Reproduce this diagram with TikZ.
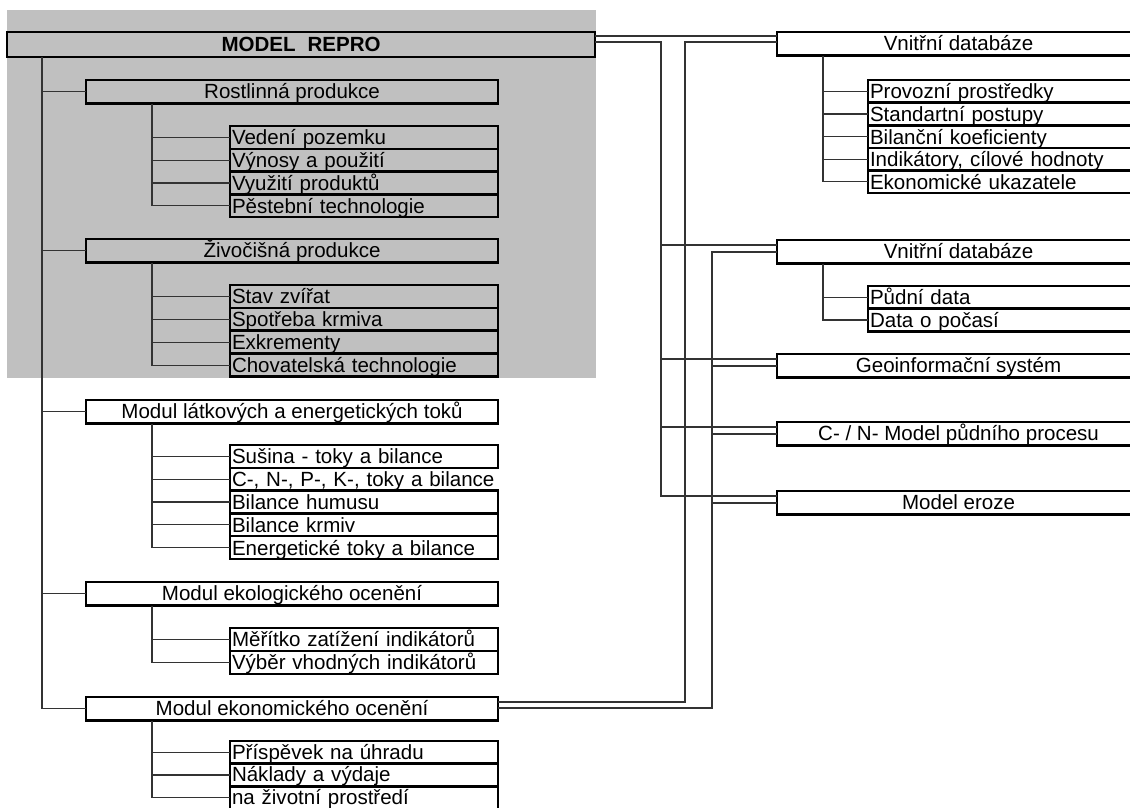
\documentclass[tikz,border=0pt]{standalone}
\usepackage{fontspec}
\setmainfont{Liberation Sans}
\usepackage{tikz}
\usetikzlibrary{calc}

\definecolor{bggray}{HTML}{C0C0C0}

\tikzset{
  box/.style={draw, line width=1.8pt, inner sep=0pt, outer sep=0pt, minimum height=0.59cm,
    text height=0.41cm, text depth=0.08cm, font=\fontsize{14.6}{17}\selectfont},
  head/.style={box, anchor=north west, minimum width=10.3cm},
  rhead/.style={box, anchor=north west, minimum width=9.075cm},
  item/.style={box, anchor=north west, minimum height=0.57cm, text height=0.43cm, text depth=0.06cm,
    text width=6.6cm, align=left, inner xsep=0.05cm},
  ritem/.style={item, text width=6.7cm},
  wire/.style={line width=0.8pt, black!80},
}

\begin{document}
\begin{tikzpicture}[x=0.025cm, y=-0.025cm]
\useasboundingbox (0,0) rectangle (1130,808);
\clip (0,0) rectangle (1130,808);

\fill[bggray] (7,10) rectangle (596,378);

\node[box, anchor=north west, minimum width=14.7cm, minimum height=0.625cm,
  font=\fontsize{14.6}{17}\selectfont\bfseries] (mr) at (7,32) {MODEL\hspace{0.3em} REPRO};

% moduly vlevo
\node[head] (rp) at (86,80) {Rostlinná produkce};
\node[head] (zp) at (86,239) {Živočišná produkce};
\node[head] (lt) at (86,400) {Modul látkových a energetických toků};
\node[head] (el) at (86,582) {Modul ekologického ocenění};
\node[head] (ek) at (86,697) {Modul ekonomického ocenění};

\foreach \t [count=\i] in {Vedení pozemku, Výnosy a použití, Využití produktů, Pěstební technologie}
  \node[item] (rp\i) at (230,{126+22.8*(\i-1)}) {\t};

\foreach \t [count=\i] in {Stav zvířat, Spotřeba krmiva, Exkrementy, Chovatelská technologie}
  \node[item] (zp\i) at (230,{285+22.9*(\i-1)}) {\t};

\node[item] (lt1) at (230,445) {Sušina - toky a bilance};
\node[item, draw=none] (lt2) at (230,467.8) {\mbox{C-, N-, P-, K-, toky a bilance}};
\node[item] (lt3) at (230,490.6) {Bilance humusu};
\node[item] (lt4) at (230,513.4) {Bilance krmiv};
\node[item] (lt5) at (230,536.2) {Energetické toky a bilance};
\draw[line width=1.8pt] (lt2.north west) -- (lt2.south west);

\foreach \t [count=\i] in {Měřítko zatížení indikátorů, Výběr vhodných indikátorů}
  \node[item] (el\i) at (230,{628+23*(\i-1)}) {\t};

\foreach \t [count=\i] in {Příspěvek na úhradu, Náklady a výdaje, na životní prostředí}
  \node[item, text height=0.41cm, text depth=0.08cm] (ek\i) at (230,{741+22.6*(\i-1)}) {\t};

\coordinate (trunk) at ($(mr.south west)+(35,0)$);
\draw[wire] (trunk) |- (ek.west);
\foreach \n in {rp,zp,lt,el}
  \draw[wire] (\n.west) -- (\n.west -| trunk);

\foreach \n/\k in {rp/4,zp/4,lt/5,el/2,ek/3}{
  \coordinate (x\n) at ($(\n.south west)+(66,0)$);
  \draw[wire] (x\n) |- (\n\k.west);
  \foreach \i in {1,...,\k}
    \draw[wire] (\n\i.west) -- (\n\i.west -| x\n);
}

% databaze vpravo
\node[rhead] (vd1) at (777,32) {Vnitřní databáze};
\node[rhead] (vd2) at (777,240) {Vnitřní databáze};
\node[rhead] (geo) at (777,354) {Geoinformační systém};
\node[rhead] (cn) at (777,422) {C- / N- Model půdního procesu};
\node[rhead] (er) at (777,491) {Model eroze};

\foreach \t [count=\i] in {Provozní prostředky, Standartní postupy, Bilanční koeficienty, {Indikátory, cílové hodnoty}, Ekonomické ukazatele}
  \node[ritem] (vd1\i) at (868,{80+22.6*(\i-1)}) {\t};

\foreach \t [count=\i] in {Půdní data, Data o počasí}
  \node[ritem] (vd2\i) at (868,{286+22.6*(\i-1)}) {\t};

\foreach \n/\k in {vd1/5,vd2/2}{
  \coordinate (x\n) at ($(\n.south west)+(46,0)$);
  \draw[wire] (x\n) |- (\n\k.west);
  \foreach \i in {1,...,\k}
    \draw[wire] (\n\i.west) -- (\n\i.west -| x\n);
}

% propojeni
\coordinate (busa) at (661,0);
\coordinate (busb) at (685,0);
\coordinate (busc) at (712,0);
\coordinate (upmr) at ($(mr.north east)+(0,4)$);
\coordinate (lomr) at ($(mr.north east)+(0,10)$);
\coordinate (upvd1) at ($(vd1.north west)+(0,4)$);
\coordinate (lovd1) at ($(vd1.north west)+(0,10)$);
\foreach \n in {vd2,geo,cn,er}{
  \coordinate (up\n) at ($(\n.north west)+(0,5)$);
  \coordinate (lo\n) at ($(\n.north west)+(0,12)$);
}
\coordinate (upek) at ($(ek.north east)+(0,5)$);
\coordinate (loek) at ($(ek.north east)+(0,11)$);

\draw[wire] (upmr) -- (upvd1);
\draw[wire] (lomr) -- (lomr -| busa) |- (uper);
\foreach \n in {vd2,geo,cn}
  \draw[wire] (up\n -| busa) -- (up\n);
\draw[wire] (lovd1) -- (lovd1 -| busb) |- (upek);
\draw[wire] (lovd2) -- (lovd2 -| busc) |- (loek);
\foreach \n in {geo,cn,er}
  \draw[wire] (lo\n -| busc) -- (lo\n);

\end{tikzpicture}
\end{document}
